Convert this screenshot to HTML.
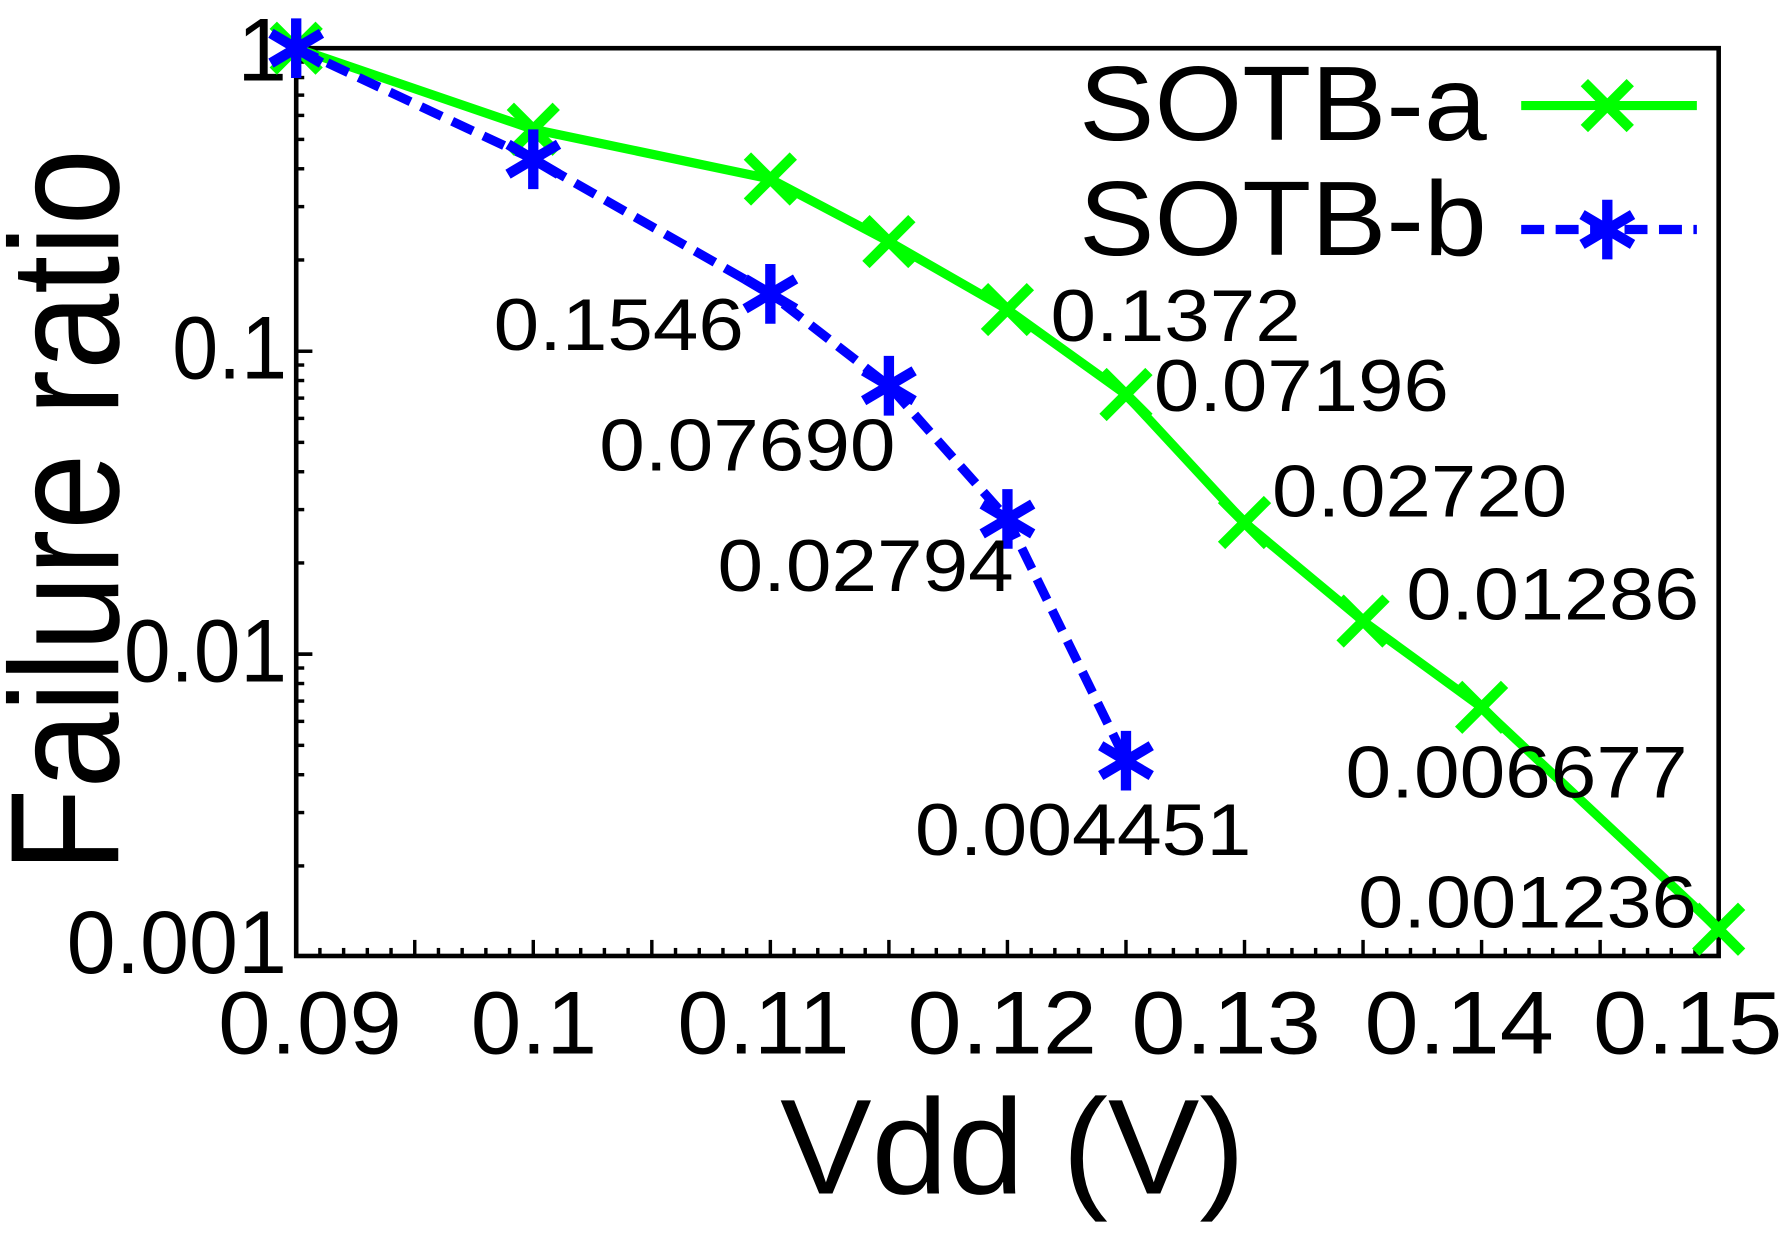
<!DOCTYPE html>
<html><head><meta charset="utf-8"><style>
html,body{margin:0;padding:0;background:#fff;}
svg{display:block;}
text{font-family:"Liberation Sans",sans-serif;fill:#000;}
</style></head><body>
<svg width="1791" height="1236" viewBox="0 0 1560 1077" preserveAspectRatio="none" xmlns="http://www.w3.org/2000/svg">
<g id="ticks" stroke="#000" stroke-width="3"></g>
<rect x="258" y="42" width="1239" height="791" fill="none" stroke="#000" stroke-width="4"/>
<g font-size="78" text-anchor="middle">
<text x="270" y="918" textLength="160" lengthAdjust="spacingAndGlyphs">0.09</text>
<text x="465" y="918" textLength="110" lengthAdjust="spacingAndGlyphs">0.1</text>
<text x="665" y="918" textLength="150" lengthAdjust="spacingAndGlyphs">0.11</text>
<text x="873" y="918" textLength="165" lengthAdjust="spacingAndGlyphs">0.12</text>
<text x="1068" y="918" textLength="165" lengthAdjust="spacingAndGlyphs">0.13</text>
<text x="1271" y="918" textLength="165" lengthAdjust="spacingAndGlyphs">0.14</text>
<text x="1470" y="918" textLength="165" lengthAdjust="spacingAndGlyphs">0.15</text>
</g>
<g font-size="78" text-anchor="end">
<text x="250" y="70">1</text>
<text x="250" y="330" textLength="100" lengthAdjust="spacingAndGlyphs">0.1</text>
<text x="250" y="594" textLength="142" lengthAdjust="spacingAndGlyphs">0.01</text>
<text x="250" y="848" textLength="192" lengthAdjust="spacingAndGlyphs">0.001</text>
</g>
<text x="0" y="0" font-size="135" text-anchor="middle" transform="translate(103,445) rotate(-90)" textLength="630" lengthAdjust="spacingAndGlyphs">Failure ratio</text>
<text x="882" y="1040" font-size="118" text-anchor="middle" textLength="405" lengthAdjust="spacingAndGlyphs">Vdd (V)</text>
<text x="940" y="122" font-size="92" textLength="355" lengthAdjust="spacingAndGlyphs">SOTB-a</text>
<text x="940" y="222" font-size="92" textLength="355" lengthAdjust="spacingAndGlyphs">SOTB-b</text>
<line x1="1325" y1="92" x2="1478" y2="92" stroke="#00ff00" stroke-width="8"/>
<line x1="1325" y1="200" x2="1478" y2="200" stroke="#0000ff" stroke-width="8" stroke-dasharray="20,10"/>
<g id="series"></g>
<g font-size="64">
<text x="430" y="305" textLength="218" lengthAdjust="spacingAndGlyphs">0.1546</text>
<text x="915" y="297" textLength="218" lengthAdjust="spacingAndGlyphs">0.1372</text>
<text x="1005" y="358" textLength="257" lengthAdjust="spacingAndGlyphs">0.07196</text>
<text x="522" y="410" textLength="258" lengthAdjust="spacingAndGlyphs">0.07690</text>
<text x="1108" y="450" textLength="257" lengthAdjust="spacingAndGlyphs">0.02720</text>
<text x="625" y="515" textLength="258" lengthAdjust="spacingAndGlyphs">0.02794</text>
<text x="1225" y="540" textLength="255" lengthAdjust="spacingAndGlyphs">0.01286</text>
<text x="1172" y="695" textLength="298" lengthAdjust="spacingAndGlyphs">0.006677</text>
<text x="797" y="745" textLength="293" lengthAdjust="spacingAndGlyphs">0.004451</text>
<text x="1183" y="808" textLength="295" lengthAdjust="spacingAndGlyphs">0.001236</text>
</g>
<script>
(function(){
var NS="http://www.w3.org/2000/svg";
function X(v){return 258+(v-0.09)*20650;}
function Y(p){return 42-Math.log10(p)*264;}
function el(t,a,par){var e=document.createElementNS(NS,t);for(var k in a)e.setAttribute(k,a[k]);par.appendChild(e);return e;}
var tk=document.getElementById('ticks');
for(var i=0;i<=60;i++){var x=258+i*1239/60;var L=(i%5==0)?14:7;
el('line',{x1:x,y1:833,x2:x,y2:833-L},tk);}
for(var d=0;d<3;d++){for(var m=1;m<=10;m++){var y=Y(Math.pow(10,-3+d)*m);if(y<42||y>833)continue;var L=(m==1||m==10)?14:7;
el('line',{x1:258,y1:y,x2:258+L,y2:y},tk);}}
var s=document.getElementById('series');
var a=[[0.09,1],[0.1,0.54],[0.11,0.37],[0.115,0.23],[0.12,0.1372],[0.125,0.07196],[0.13,0.0272],[0.135,0.01286],[0.14,0.006677],[0.15,0.001236]];
var b=[[0.09,1],[0.1,0.43],[0.11,0.1546],[0.115,0.0769],[0.12,0.02794],[0.125,0.004451]];
function pts(d){return d.map(function(p){return X(p[0])+','+Y(p[1]);}).join(' ');}
el('polyline',{points:pts(a),fill:'none',stroke:'#00ff00','stroke-width':8},s);
el('polyline',{points:pts(b),fill:'none',stroke:'#0000ff','stroke-width':8,'stroke-dasharray':'20,10'},s);
function cross(x,y){var r=20;el('path',{d:'M'+(x-r)+','+(y-r)+'L'+(x+r)+','+(y+r)+'M'+(x-r)+','+(y+r)+'L'+(x+r)+','+(y-r),stroke:'#00ff00','stroke-width':9,fill:'none'},s);}
function star(x,y){var r=26,dx=22,dy=13;el('path',{d:'M'+x+','+(y-r)+'L'+x+','+(y+r)+'M'+(x-dx)+','+(y-dy)+'L'+(x+dx)+','+(y+dy)+'M'+(x-dx)+','+(y+dy)+'L'+(x+dx)+','+(y-dy),stroke:'#0000ff','stroke-width':9,fill:'none'},s);}
a.forEach(function(p){cross(X(p[0]),Y(p[1]));});
b.forEach(function(p){star(X(p[0]),Y(p[1]));});
cross(1400,92);star(1400,200);
})();
</script>
</svg>
</body></html>
